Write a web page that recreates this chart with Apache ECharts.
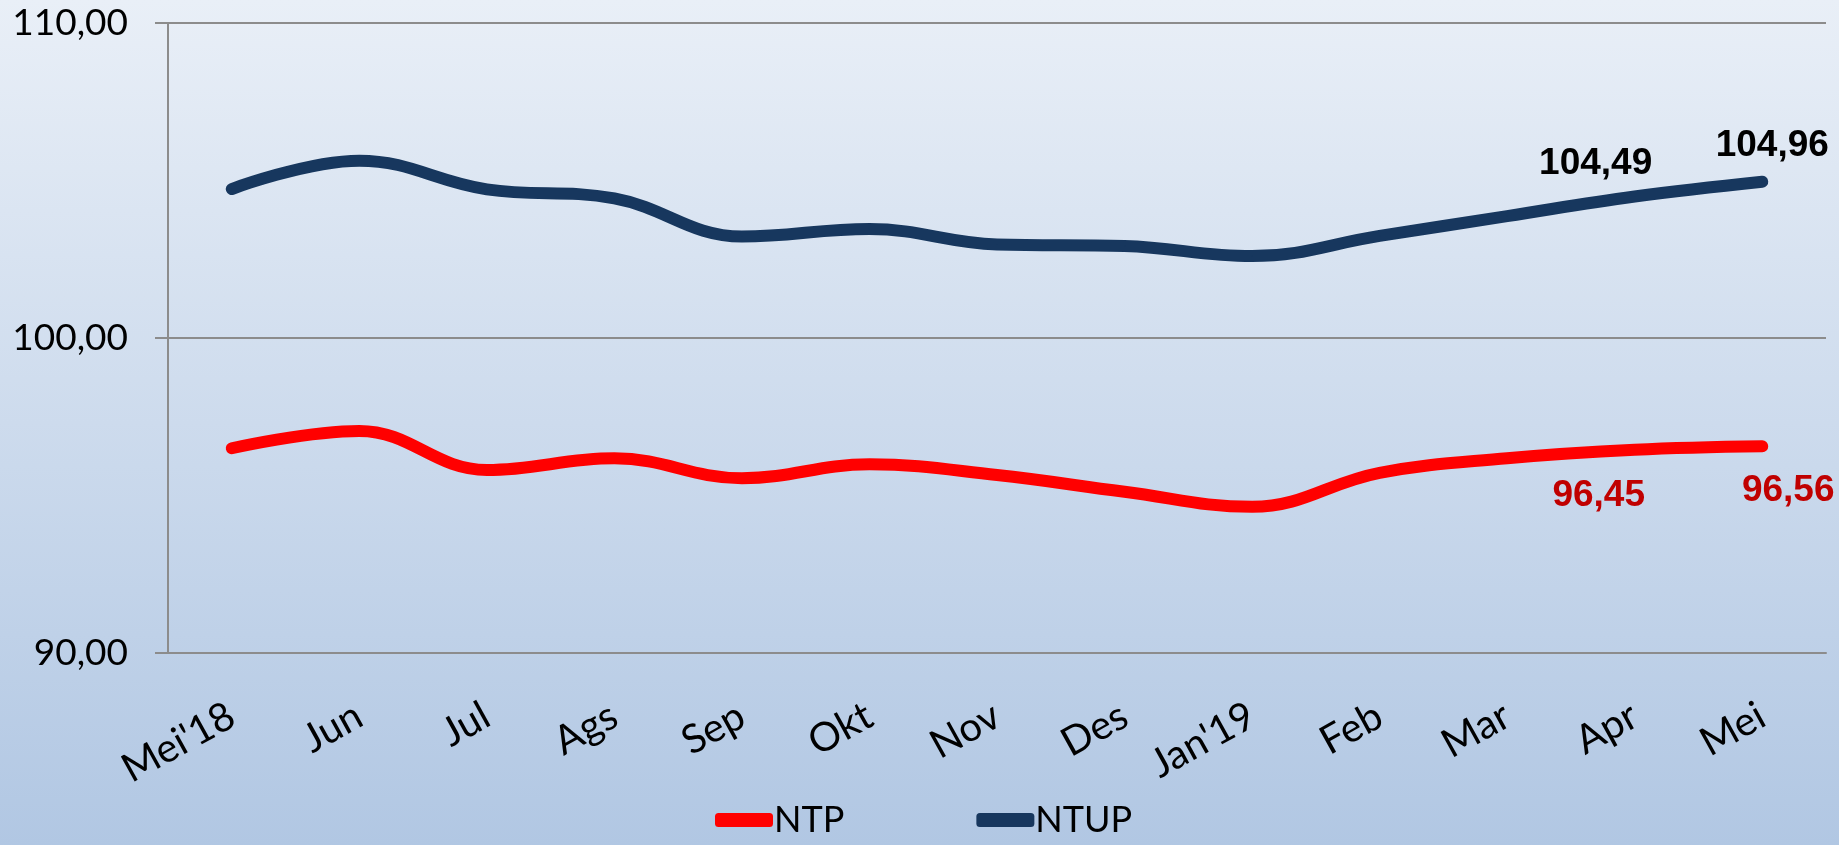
<!DOCTYPE html>
<html>
<head>
<meta charset="utf-8">
<script src="https://cdn.jsdelivr.net/npm/echarts@6/dist/echarts.min.js"></script>
<style>
  html, body { margin: 0; padding: 0; }
  #main { width: 1839px; height: 845px; }
</style>
</head>
<body>
<div id="main"></div>
<script>
// data
const months = ["Mei'18", 'Jun', 'Jul', 'Ags', 'Sep', 'Okt', 'Nov', 'Des', "Jan'19", 'Feb', 'Mar', 'Apr', 'Mei'];
const ntp = [96.50, 97.05, 95.81, 96.18, 95.55, 95.99, 95.65, 95.12, 94.64, 95.72, 96.18, 96.45, 96.56];
const ntup = [104.73, 105.63, 104.72, 104.43, 103.22, 103.46, 102.97, 102.92, 102.60, 103.24, 103.87, 104.49, 104.96];
const yTicks = [90, 100, 110];

const chart = echarts.init(document.getElementById('main'));

function fmt(v) {
  return v.toFixed(2).replace('.', ',');
}

// only the last two points carry a label
function withLabels(values, labelCfg) {
  return values.map(function (v, i) {
    if (labelCfg[i]) {
      return { value: v, label: Object.assign({ show: true }, labelCfg[i]) };
    }
    return v;
  });
}

const lastIdx = months.length - 1;
const ntpLabels = {};
ntpLabels[lastIdx - 1] = { position: 'bottom', offset: [-36, 22] };
ntpLabels[lastIdx] = { position: 'bottom', offset: [26, 20] };
const ntupLabels = {};
ntupLabels[lastIdx - 1] = { position: 'top', offset: [-39, -9] };
ntupLabels[lastIdx] = { position: 'top', offset: [10, -12] };

const labelFont = {
  fontFamily: "'Liberation Sans Narrow', 'Arial Narrow', 'Liberation Sans', sans-serif",
  fontWeight: 'bold',
  fontSize: 37,
  formatter: function (p) { return fmt(p.value); }
};

const option = {
  backgroundColor: new echarts.graphic.LinearGradient(0, 0, 0, 1, [
    { offset: 0, color: '#e9eff7' },
    { offset: 1, color: '#b1c7e3' }
  ]),
  animation: false,
  grid: { left: 168, right: 13, top: 23, bottom: 192 },
  legend: {
    bottom: 2,
    left: 710,
    itemWidth: 58,
    itemHeight: 14,
    itemGap: 132,
    icon: 'roundRect',
    textStyle: { fontFamily: 'Lato', fontSize: 36, color: '#000', padding: [0, 0, 0, -4] },
    data: ['NTP', 'NTUP']
  },
  xAxis: {
    type: 'category',
    data: months,
    boundaryGap: true,
    axisLine: { lineStyle: { color: '#8c8c8c', width: 2 } },
    axisTick: { length: 15, lineStyle: { color: '#8c8c8c', width: 2 } },
    axisLabel: {
      rotate: 29,
      margin: 60,
      interval: 0,
      fontFamily: 'Lato',
      fontSize: 40,
      color: '#000'
    }
  },
  yAxis: {
    type: 'value',
    min: yTicks[0],
    max: yTicks[yTicks.length - 1],
    interval: 10,
    axisLine: { show: true, lineStyle: { color: '#8c8c8c', width: 2 } },
    axisTick: { show: true, length: 13, lineStyle: { color: '#8c8c8c', width: 2 } },
    splitLine: { lineStyle: { color: '#8c8c8c', width: 2 } },
    axisLabel: {
      margin: 40,
      fontFamily: 'Lato',
      fontSize: 37,
      color: '#000',
      formatter: fmt
    }
  },
  series: [
    {
      name: 'NTP',
      type: 'line',
      smooth: 0.4,
      symbol: 'circle',
      symbolSize: 1,
      showSymbol: true,
      color: '#ff0000',
      lineStyle: { width: 12, cap: 'round', color: '#ff0000' },
      label: Object.assign({ color: '#c00000' }, labelFont),
      data: withLabels(ntp, ntpLabels)
    },
    {
      name: 'NTUP',
      type: 'line',
      smooth: 0.4,
      symbol: 'circle',
      symbolSize: 1,
      showSymbol: true,
      color: '#17375e',
      lineStyle: { width: 12, cap: 'round', color: '#17375e' },
      label: Object.assign({ color: '#000' }, labelFont),
      data: withLabels(ntup, ntupLabels)
    }
  ]
};

chart.setOption(option);
</script>
</body>
</html>
